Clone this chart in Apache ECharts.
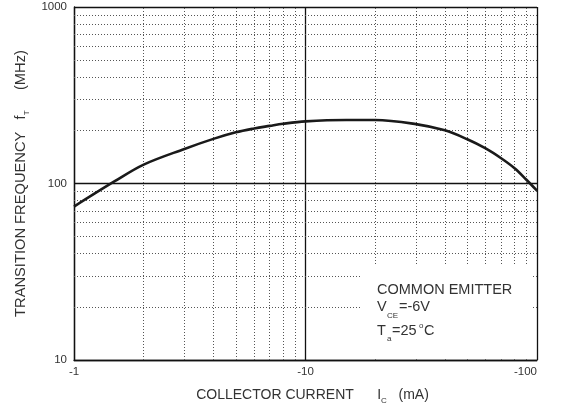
<!DOCTYPE html>
<html>
<head>
<meta charset="utf-8">
<script src="https://cdn.jsdelivr.net/npm/echarts@6/dist/echarts.min.js"></script>
<style>
html,body{margin:0;padding:0;background:#fff;}
#chart{width:561px;height:408px;}
</style>
</head>
<body>
<div id="chart"></div>
<script>
// Collector current magnitude (mA); axis labels show the negative sign
var collectorCurrent = [1, 1.5, 2, 3, 4, 5, 6, 7, 8, 10, 15, 20, 30, 40, 50, 60, 70, 80, 90, 100];
// Transition frequency fT (MHz)
var transitionFreq = [74, 103, 128, 157, 179, 195, 205, 212, 218, 225, 229, 229, 217, 200, 178, 158, 139, 122, 105, 91];
// Dotted minor grid positions
var xMinorTicks = [2, 3, 4, 5, 6, 7, 8, 9, 20, 30, 40, 50, 60, 70, 80, 90];
var yMinorTicks = [20, 30, 40, 50, 60, 70, 80, 90, 200, 300, 400, 500, 600, 700, 800, 900];

var FONT = '"Liberation Sans", Arial, sans-serif';
var TXT = '#333';

var chart = echarts.init(document.getElementById('chart'), null, {renderer: 'canvas'});

var seriesData = collectorCurrent.map(function (x, i) { return [x, transitionFreq[i]]; });

var dotted = {color: '#555', width: 1, type: [1, 2]};
var gridLines = xMinorTicks.map(function (v) { return {xAxis: v}; })
  .concat(yMinorTicks.map(function (v) { return {yAxis: v}; }));

function txt(str, left, top, size) {
  return {type: 'text', left: left, top: top, z: 60,
    style: {text: str, fill: TXT, font: size + 'px ' + FONT}};
}

var option = {
  animation: false,
  backgroundColor: '#fff',
  textStyle: {fontFamily: FONT},
  grid: {left: 74, right: 24, top: 7, bottom: 48, containLabel: false, outerBoundsMode: 'none'},
  xAxis: {
    type: 'log', logBase: 10, min: 1, max: 100,
    name: 'COLLECTOR CURRENT      {n|I}{sub|C}   (mA)',
    nameLocation: 'middle', nameGap: 25,
    nameTextStyle: {
      color: TXT, fontSize: 14, fontFamily: FONT, padding: [0, 0, 0, 14],
      rich: {
        n: {fontSize: 14, color: TXT, fontFamily: FONT, lineHeight: 20, verticalAlign: 'middle'},
        sub: {fontSize: 8, color: TXT, fontFamily: FONT, lineHeight: 20, verticalAlign: 'bottom'}
      }
    },
    axisLine: {show: true, lineStyle: {color: '#111', width: 1.3}},
    axisTick: {show: false},
    axisLabel: {
      color: TXT, fontSize: 11.5, fontFamily: FONT, margin: 6,
      formatter: function (v) { return '-' + v; },
      alignMaxLabel: 'right'
    },
    splitLine: {show: true, lineStyle: {color: '#111', width: 1.3}},
    minorTick: {show: false},
    minorSplitLine: {show: false}
  },
  yAxis: {
    type: 'log', logBase: 10, min: 10, max: 1000,
    name: 'TRANSITION FREQUENCY   {n|f}{sub|T}     (MHz)',
    nameLocation: 'middle', nameGap: 37,
    nameTextStyle: {
      color: TXT, fontSize: 14.7, fontFamily: FONT,
      rich: {
        n: {fontSize: 14.7, color: TXT, fontFamily: FONT, lineHeight: 20, verticalAlign: 'middle'},
        sub: {fontSize: 8, color: TXT, fontFamily: FONT, lineHeight: 20, verticalAlign: 'bottom'}
      }
    },
    axisLine: {show: true, lineStyle: {color: '#111', width: 1.3}},
    axisTick: {show: false},
    axisLabel: {color: TXT, fontSize: 11.5, fontFamily: FONT, margin: 7,
      formatter: function (v) { return String(v); }},
    splitLine: {show: true, lineStyle: {color: '#111', width: 1.3}}
  },
  series: [
    {
      name: 'grid',
      type: 'line',
      data: seriesData,
      z: 1,
      silent: true,
      showSymbol: false,
      lineStyle: {opacity: 0},
      markLine: {
        silent: true,
        symbol: ['none', 'none'],
        label: {show: false},
        lineStyle: dotted,
        data: gridLines
      }
    },
    {
      name: 'fT',
      type: 'line',
      data: seriesData,
      z: 5,
      smooth: 0.35,
      showSymbol: false,
      lineStyle: {color: '#1a1a1a', width: 2.6}
    }
  ],
  graphic: [
    {type: 'rect', z: 50, silent: true,
      shape: {x: 360, y: 266, width: 172, height: 91},
      style: {fill: '#fff'}},
    txt('COMMON EMITTER', 377, 282, 14.5),
    txt('V', 377, 299, 14.5),
    txt('CE', 387, 312, 8),
    txt('=-6V', 399, 299, 14.5),
    txt('T', 377, 323, 14.5),
    txt('a', 387, 335, 8),
    txt('=25', 392, 323, 14.5),
    txt('o', 419, 322, 8),
    txt('C', 424, 323, 14.5)
  ]
};
chart.setOption(option);
</script>
</body>
</html>
